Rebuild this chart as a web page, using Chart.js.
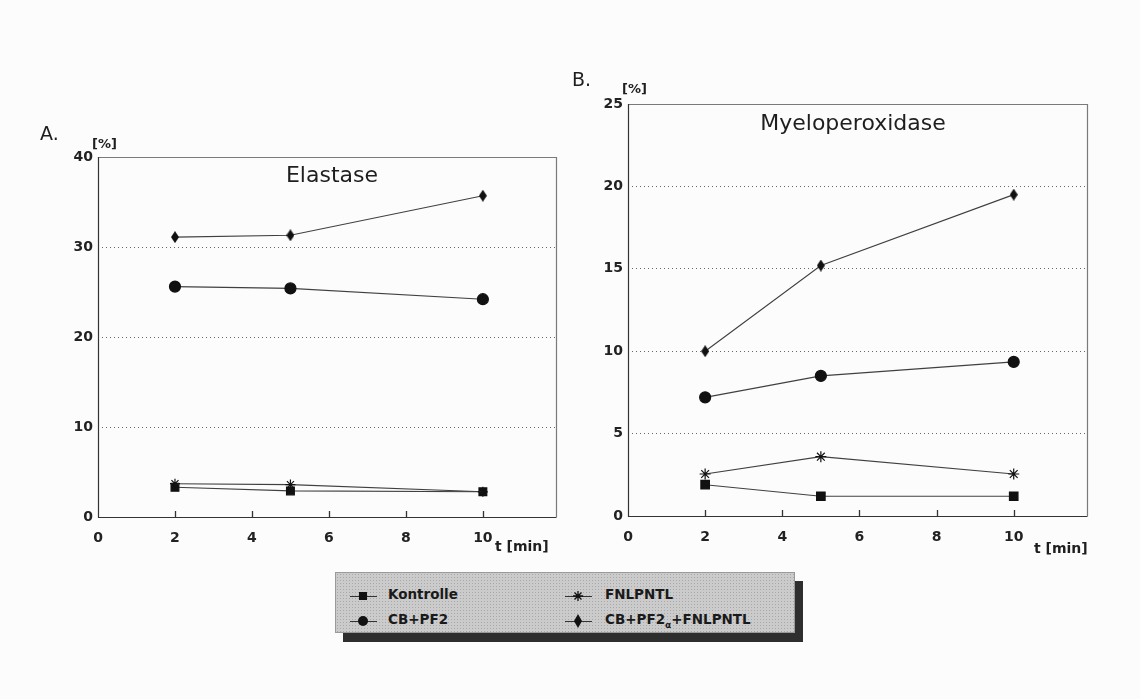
<!DOCTYPE html>
<html>
<head>
<meta charset="utf-8">
<script src="https://cdn.jsdelivr.net/npm/chart.js@4.4.1/dist/chart.umd.min.js"></script>
<style>
body{margin:0;background:#fcfcfc;font-family:"DejaVu Sans",sans-serif;color:#1e1e1e;}
#page{position:relative;width:1140px;height:699px;overflow:hidden;}
canvas{position:absolute;}
.txt{position:absolute;white-space:nowrap;line-height:1;}
.panel{font-size:19px;}
.unit{font-size:13px;font-weight:bold;}
.ttl{font-size:22px;transform:translate(-50%,-50%);}
.xt{font-size:14px;font-weight:bold;}
#legend{position:absolute;left:335px;top:572px;width:460px;height:61px;background-color:#cbcbcb;
  background-image:radial-gradient(#a8a8a8 0.7px,transparent 0.8px);background-size:3px 3px;
  border:1px solid #9a9a9a;box-shadow:8px 9px 0 #2e2e2e;box-sizing:border-box;}
.item{position:absolute;font-size:13.5px;font-weight:bold;line-height:1;color:#1a1a1a;}
.ico{position:absolute;}
</style>
</head>
<body>
<div id="page">
  <canvas id="chartA" width="540" height="421" style="left:30px;top:139px;"></canvas>
  <canvas id="chartB" width="540" height="473" style="left:560px;top:86px;"></canvas>

  <div class="txt panel" style="left:40px;top:124px;">A.</div>
  <div class="txt unit" style="left:92px;top:137px;">[%]</div>
  <div class="txt ttl" style="left:332px;top:175px;">Elastase</div>
  <div class="txt xt" style="left:495px;top:539px;">t [min]</div>

  <div class="txt panel" style="left:572px;top:70px;">B.</div>
  <div class="txt unit" style="left:622px;top:82px;">[%]</div>
  <div class="txt ttl" style="left:853px;top:123px;">Myeloperoxidase</div>
  <div class="txt xt" style="left:1034px;top:541px;">t [min]</div>

  <div id="legend"></div>
</div>

<script>
//Sampling times (min)
const times = [2, 5, 10];

//Series names
const seriesNames = ['Kontrolle', 'CB+PF2', 'FNLPNTL', 'CB+PF2α+FNLPNTL'];

//A. Elastase release [%]
const elastaseKontrolle = [3.3, 2.9, 2.8];
const elastaseCB = [25.6, 25.4, 24.2];
const elastaseFN = [3.7, 3.6, 2.8];
const elastaseCBFN = [31.1, 31.3, 35.7];

//B. Myeloperoxidase release [%]
const mpoKontrolle = [1.9, 1.2, 1.2];
const mpoCB = [7.2, 8.5, 9.35];
const mpoFN = [2.55, 3.6, 2.55];
const mpoCBFN = [10, 15.2, 19.5];

//Axis ranges and ticks
const xMax = 11.9;
const xStep = 2;
const yMaxA = 40, yStepA = 10;
const yMaxB = 25, yStepB = 5;

//tall diamond marker
function makeDiamond(){
    let c = document.createElement('canvas');
    c.width = 8; c.height = 12;
    let g = c.getContext('2d');
    g.fillStyle = '#111';
    g.beginPath();
    g.moveTo(4, 0); g.lineTo(8, 6); g.lineTo(4, 12); g.lineTo(0, 6);
    g.closePath();
    g.fill();
    return c;
}
const diamond = makeDiamond();

function toPoints(vals){
    return times.map((t, i) => ({x: t, y: vals[i]}));
}

function makeSet(label, vals, style, radius){
    return {
        label: label,
        data: toPoints(vals),
        borderColor: '#404040',
        borderWidth: 1.1,
        pointStyle: style,
        pointRadius: radius,
        pointBackgroundColor: '#111',
        pointBorderColor: '#111',
        pointBorderWidth: 1.2,
        fill: false,
        tension: 0
    };
}

//draws the box round the plot area + small inner ticks on the time axis
const framePlugin = {
    id: 'frame',
    beforeDatasetsDraw(chart){
        const a = chart.chartArea;
        const ctx = chart.ctx;
        ctx.save();
        ctx.lineWidth = 1.2;
        ctx.strokeStyle = '#7a7a7a';
        ctx.beginPath();
        ctx.moveTo(a.left, a.top + 0.5); ctx.lineTo(a.right + 0.5, a.top + 0.5); ctx.lineTo(a.right + 0.5, a.bottom);
        ctx.stroke();
        ctx.strokeStyle = '#333';
        ctx.beginPath();
        ctx.moveTo(a.left + 0.5, a.top); ctx.lineTo(a.left + 0.5, a.bottom + 0.5); ctx.lineTo(a.right + 0.5, a.bottom + 0.5);
        ctx.stroke();
        //ticks
        const xs = chart.scales.x;
        ctx.lineWidth = 1.3;
        ctx.beginPath();
        xs.ticks.forEach(function(t){
            if (t.value == 0) return;
            let px = Math.round(xs.getPixelForValue(t.value)) + 0.5;
            ctx.moveTo(px, a.bottom - 6);
            ctx.lineTo(px, a.bottom + 1);
        });
        ctx.stroke();
        ctx.restore();
    }
};

function makeChart(id, sets, yMax, yStep, padRight){
    return new Chart(document.getElementById(id), {
        type: 'line',
        data: {datasets: sets},
        options: {
            responsive: false,
            animation: false,
            layout: {padding: {top: 18, right: padRight, left: 0, bottom: 0}},
            plugins: {legend: {display: false}, tooltip: {enabled: false}},
            scales: {
                x: {
                    type: 'linear', min: 0, max: xMax,
                    border: {display: false},
                    grid: {display: false},
                    ticks: {stepSize: xStep, includeBounds: false, padding: 5, color: '#222',
                        font: {family: 'DejaVu Sans', size: 14, weight: 'bold'}},
                    afterFit(scale){ scale.height = 43; }
                },
                y: {
                    min: 0, max: yMax,
                    border: {display: false, dash: [1, 3]},
                    grid: {
                        drawTicks: false, lineWidth: 1,
                        color: (c) => (c.tick && (c.tick.value === 0 || c.tick.value === yMax)) ? 'rgba(0,0,0,0)' : '#666'
                    },
                    ticks: {stepSize: yStep, padding: 5, color: '#222',
                        font: {family: 'DejaVu Sans', size: 14, weight: 'bold'}},
                    afterFit(scale){ scale.width = 68; }
                }
            }
        },
        plugins: [framePlugin]
    });
}

makeChart('chartA', [
    makeSet(seriesNames[2], elastaseFN, 'star', 5),
    makeSet(seriesNames[0], elastaseKontrolle, 'rect', 5.5),
    makeSet(seriesNames[1], elastaseCB, 'circle', 5.5),
    makeSet(seriesNames[3], elastaseCBFN, diamond, 6)
], yMaxA, yStepA, 14);

makeChart('chartB', [
    makeSet(seriesNames[2], mpoFN, 'star', 5.5),
    makeSet(seriesNames[0], mpoKontrolle, 'rect', 6),
    makeSet(seriesNames[1], mpoCB, 'circle', 5.5),
    makeSet(seriesNames[3], mpoCBFN, diamond, 6)
], yMaxB, yStepB, 13);

//Legend below the two plots, small svg icons
const legendPos = [
    {ix: 14, tx: 52, ty: 22, mk: 'sq'},
    {ix: 14, tx: 52, ty: 47, mk: 'ci'},
    {ix: 229, tx: 269, ty: 22, mk: 'st'},
    {ix: 229, tx: 269, ty: 47, mk: 'di'}
];
const markerSvg = {
    sq: '<rect x="9" y="3" width="8" height="8" fill="#111"/>',
    ci: '<circle cx="13" cy="7" r="5" fill="#111"/>',
    st: '<path d="M13 2V12M8 7H18M9.5 3.5L16.5 10.5M16.5 3.5L9.5 10.5" stroke="#111" stroke-width="1.3"/>',
    di: '<path d="M13 0L17 7L13 14L9 7Z" fill="#111"/>'
};
let leg = document.getElementById('legend');
seriesNames.forEach(function(name, i){
    let p = legendPos[i];
    let ico = document.createElement('div');
    ico.className = 'ico';
    ico.style.left = p.ix + 'px';
    ico.style.top = (p.ty - 7) + 'px';
    ico.innerHTML = '<svg width="27" height="14"><line x1="0" y1="7.5" x2="27" y2="7.5" stroke="#333" stroke-width="1"/>' + markerSvg[p.mk] + '</svg>';
    leg.appendChild(ico);
    let t = document.createElement('div');
    t.className = 'item';
    t.style.left = p.tx + 'px';
    t.style.top = (p.ty - 7) + 'px';
    if (name.indexOf('α') > 0){
        let parts = name.split('α');
        t.innerHTML = parts[0] + '<sub style="font-size:9px;vertical-align:-4px;">α</sub>' + parts[1];
    } else {
        t.textContent = name;
    }
    leg.appendChild(t);
});
</script>
</body>
</html>
